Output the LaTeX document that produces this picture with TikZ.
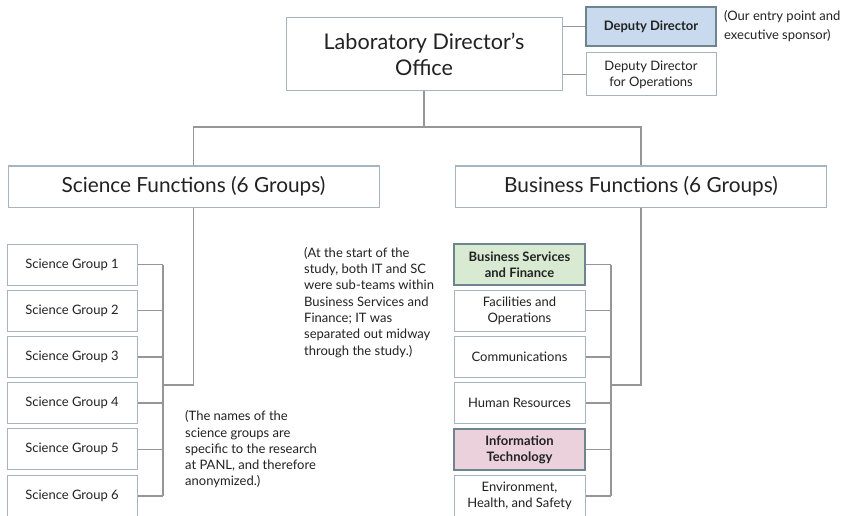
\documentclass[tikz,border=0pt]{standalone}
\usepackage{fontspec}
\setmainfont{Lato}
\definecolor{boxc}{RGB}{165,180,190}
\definecolor{hlc}{RGB}{110,132,145}
\definecolor{linec}{RGB}{150,150,150}
\definecolor{textc}{RGB}{34,34,34}
\definecolor{bluef}{RGB}{201,218,238}
\definecolor{greenf}{RGB}{217,234,211}
\definecolor{pinkf}{RGB}{234,209,220}
\begin{document}
\begin{tikzpicture}[x=1pt,y=-1pt,
  box/.style={draw=boxc, line width=1pt, fill=white, inner sep=0pt, align=center, text=textc},
  hbox/.style={box, draw=hlc, line width=2pt},
  small/.style={font=\fontsize{13}{16}\selectfont},
  smallbf/.style={font=\fontsize{13}{16}\selectfont\bfseries},
  grp/.style={box, small, minimum width=130pt, minimum height=41pt},
  func/.style={box, minimum width=371pt, minimum height=41pt, font=\fontsize{20.8}{25}\selectfont},
  note/.style={anchor=north west, align=left, inner sep=0pt, text=textc, font=\fontsize{13}{16.3}\selectfont},
  conn/.style={draw=linec, line width=1.3pt}]
\useasboundingbox (0,0) rectangle (846,516);
\clip (0,0) rectangle (846,516);
\fill[white] (0,0) rectangle (846,516);

% top
\node[box, minimum width=276pt, minimum height=73pt, font=\fontsize{21.6}{25.5}\selectfont] (ldo) at (424,54.5) {Laboratory Director's\\Office};
\node[hbox, smallbf, minimum width=130pt, minimum height=39pt, fill=bluef] (dd) at (651,26.5) {Deputy Director};
\node[grp, minimum height=43pt] (ddo) at (651,74.5) {Deputy Director\\for Operations};
\node[note, font=\fontsize{13}{19}\selectfont] (ddnote) at (724,10.5) {(Our entry point and\\executive sponsor)};

% functions
\node[func] (sf) at (193.5,186.5) {Science Functions (6 Groups)};
\node[func] (bf) at (641,186.5) {Business Functions (6 Groups)};

% science groups
\node[grp] (s1) at (72,264.7) {Science Group 1};
\node[grp] (s2) at (72,310.7) {Science Group 2};
\node[grp] (s3) at (72,357) {Science Group 3};
\node[grp] (s4) at (72,403) {Science Group 4};
\node[grp] (s5) at (72,449.3) {Science Group 5};
\node[grp] (s6) at (72,496) {Science Group 6};

% business groups
\node[hbox, smallbf, minimum width=131pt, minimum height=41pt, fill=greenf] (b1) at (519.5,264.7) {Business Services\\and Finance};
\node[grp, minimum width=131pt] (b2) at (519.5,310.7) {Facilities and\\Operations};
\node[grp, minimum width=131pt] (b3) at (519.5,357) {Communications};
\node[grp, minimum width=131pt] (b4) at (519.5,403) {Human Resources};
\node[hbox, smallbf, minimum width=131pt, minimum height=41pt, fill=pinkf] (b5) at (519.5,449.5) {Information\\Technology};
\node[grp, minimum width=131pt] (b6) at (519.5,496) {Environment,\\Health, and Safety};

% notes
\node[note] (scnote) at (304,247) {(At the start of the\\study, both IT and SC\\were sub-teams within\\Business Services and\\Finance; IT was\\separated out midway\\through the study.)};
\node[note] (sgnote) at (185,410.5) {(The names of the\\science groups are\\specific to the research\\at PANL, and therefore\\anonymized.)};

% connectors
\coordinate (top) at (424,127);
\coordinate (sj) at (163,385);
\coordinate (bj) at (611,385);
\draw[conn] (ldo.south) -- (top);
\draw[conn] (top) -| (sf.north);
\draw[conn] (top) -| (bf.north);
\draw[conn] (ldo.east |- dd.west) -- (dd.west);
\draw[conn] (ldo.east |- ddo.west) -- (ddo.west);
\draw[conn] (sf.south) |- (sj);
\draw[conn] (bf.south) |- (bj);
\draw[conn] (s1.east -| sj) -- (s6.east -| sj);
\draw[conn] (b1.east -| bj) -- (b6.east -| bj);
\foreach \n in {s1,s2,s3,s4,s5,s6} {\draw[conn] (\n.east) -- (\n.east -| sj);}
\foreach \n in {b1,b2,b3,b4,b5,b6} {\draw[conn] (\n.east) -- (\n.east -| bj);}
\end{tikzpicture}
\end{document}
